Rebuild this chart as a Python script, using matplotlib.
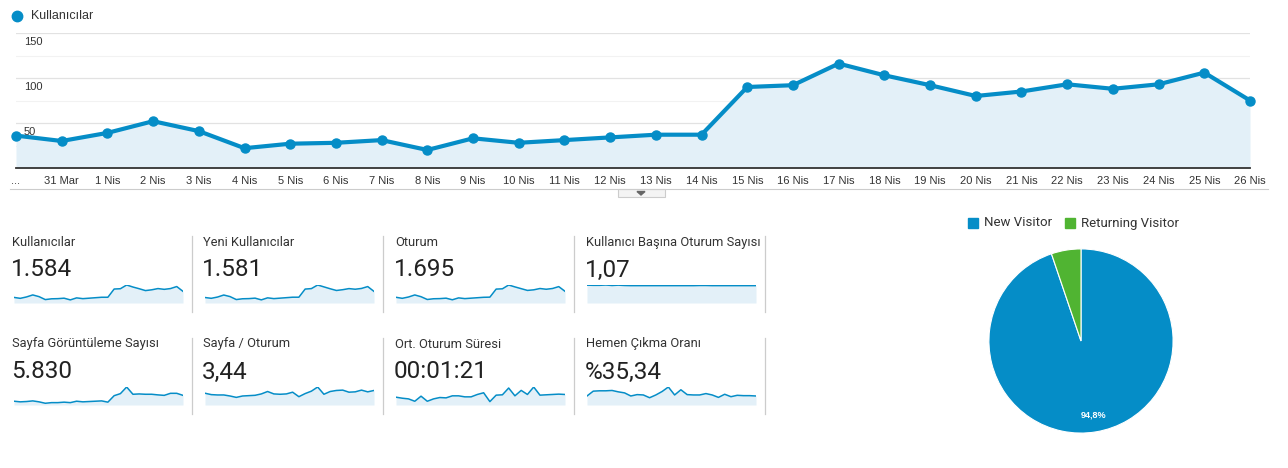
import matplotlib.pyplot as plt
from matplotlib.patches import Rectangle, Polygon
import numpy as np

# ---- data ----
dates = ['...', '31 Mar'] + ['%d Nis' % d for d in range(1, 27)]
users = [36, 30, 39, 52, 41, 22, 27, 28, 31, 20, 33, 28, 31, 34, 37, 37,
         90, 92, 116, 103, 92, 80, 85, 93, 88, 93, 106, 75]

new_users = [35, 30, 38, 51, 41, 22, 27, 28, 31, 20, 33, 28, 31, 34, 37, 37,
             89, 92, 115, 103, 91, 80, 85, 92, 88, 93, 105, 74]
sessions = [39, 32, 41, 55, 43, 24, 29, 30, 33, 22, 35, 30, 33, 36, 39, 40,
            95, 97, 123, 110, 98, 86, 90, 99, 94, 99, 112, 80]
sess_per_user = [1.10, 1.09, 1.09, 1.11, 1.08, 1.10, 1.08, 1.07, 1.07, 1.07,
                 1.07, 1.07, 1.07, 1.07, 1.07, 1.07, 1.07, 1.07, 1.08, 1.08,
                 1.07, 1.07, 1.07, 1.07, 1.07, 1.07, 1.07, 1.07]
pageviews = [120, 100, 110, 130, 100, 55, 75, 75, 90, 75, 120, 100, 110, 120,
             130, 90, 295, 360, 570, 340, 350, 340, 340, 320, 305, 370, 370, 305]
pages_per_session = [3.4, 3.0, 2.9, 2.9, 2.6, 2.2, 2.6, 2.7, 2.8, 3.2, 3.9, 3.2,
                     3.1, 3.2, 3.7, 2.4, 3.3, 4.0, 5.2, 3.1, 3.9, 4.2, 4.3, 3.7,
                     3.8, 4.3, 3.8, 4.2]
avg_duration = [69, 60, 54, 33, 78, 33, 54, 66, 63, 81, 81, 72, 72, 93, 108, 30,
                87, 90, 150, 81, 129, 93, 159, 87, 90, 93, 96, 93]
bounce_rate = [28.6, 44.0, 45.1, 45.1, 46.2, 41.8, 38.5, 28.6, 33.0, 31.9, 23.1,
               31.9, 42.9, 57.2, 31.9, 48.4, 33.0, 31.9, 31.9, 36.3, 31.9, 24.2,
               34.1, 26.4, 30.8, 29.7, 29.7, 28.6]

cards = [
    ('Kullanıcılar', '1.584', users),
    ('Yeni Kullanıcılar', '1.581', new_users),
    ('Oturum', '1.695', sessions),
    ('Kullanıcı Başına Oturum Sayısı', '1,07', sess_per_user),
    ('Sayfa Görüntüleme Sayısı', '5.830', pageviews),
    ('Sayfa / Oturum', '3,44', pages_per_session),
    ('Ort. Oturum Süresi', '00:01:21', avg_duration),
    ('Hemen Çıkma Oranı', '%35,34', bounce_rate),
]

pie_labels = ['New Visitor', 'Returning Visitor']
pie_values = [94.8, 5.2]

BLUE = '#058dc7'
GREEN = '#50b432'
FILL = '#e3f0f8'
TXT = '#333333'

W, H = 1288, 468
fig = plt.figure(figsize=(W / 100, H / 100), dpi=100)


def px_axes(x, y, w, h):
    return fig.add_axes([x / W, 1 - (y + h) / H, w / W, h / H])


def px_text(x, y, s, **kw):
    fig.text(x / W, 1 - y / H, s, **kw)


# ---- main line chart ----
ax = px_axes(16, 33, 1234, 135)
xs = np.arange(len(users))
ax.fill_between(xs, users, 0, color=FILL, lw=0, zorder=1)
ax.plot(xs, users, color=BLUE, lw=3, marker='o', ms=6.5, clip_on=False, zorder=3)
ax.set_xlim(0, len(users) - 1)
ax.set_ylim(0, 150)
for v in [25, 75, 125]:
    ax.axhline(v, color='#f2f2f2', lw=0.8, zorder=0)
for v in [50, 100, 150]:
    ax.axhline(v, color='#e2e2e2', lw=0.9, zorder=0)
    ax.text(8 / 1234, v - 10, str(v), transform=ax.get_yaxis_transform(),
            fontsize=8, color=TXT, family='Liberation Sans', va='center', zorder=4)
for s in ['top', 'left', 'right']:
    ax.spines[s].set_visible(False)
ax.spines['bottom'].set_color('#333333')
ax.spines['bottom'].set_linewidth(1.3)
ax.set_yticks([])
ax.set_xticks(xs)
ax.set_xticklabels(dates, fontsize=8, color=TXT, family='Liberation Sans')
ax.tick_params(axis='x', length=0, pad=6)

# legend of main chart
fig.add_artist(plt.Line2D([17 / W], [1 - 16 / H], marker='o', ms=7.5, color=BLUE,
                          lw=0, transform=fig.transFigure))
px_text(31, 16, 'Kullanıcılar', fontsize=9, color=TXT, family='Liberation Sans',
        va='center')

# separator line under chart and the small tab
fig.add_artist(plt.Line2D([10 / W, 1268 / W], [1 - 189 / H, 1 - 189 / H],
                          color='#cccccc', lw=0.8, transform=fig.transFigure))
fig.patches.append(Rectangle((618 / W, 1 - 197 / H), 47 / W, 8 / H,
                             facecolor='#f4f4f4', edgecolor='#cccccc', lw=0.8,
                             transform=fig.transFigure, figure=fig))
fig.patches.append(Polygon([(637 / W, 1 - 191.5 / H), (645 / W, 1 - 191.5 / H),
                            (641 / W, 1 - 195 / H)], closed=True, color='#666666',
                           transform=fig.transFigure, figure=fig))

# ---- metric cards ----
col_x = [12, 203, 395, 586]
spark_x = [14, 205, 396, 587]
sep_x = [192, 383, 574, 765]
row_y = [0, 102]
for i, (title, value, series) in enumerate(cards):
    r, c = divmod(i, 4)
    dy = row_y[r]
    px_text(col_x[c], 242 + dy, title, fontsize=9.3, color=TXT, family='Roboto',
            va='center')
    px_text(col_x[c] - 1, 270 + dy, value, fontsize=17.5, color='#222222',
            family='Roboto', va='center')
    fig.add_artist(plt.Line2D([sep_x[c] / W] * 2,
                              [1 - (236 + dy) / H, 1 - (312 + dy) / H],
                              color='#cccccc', lw=0.9, transform=fig.transFigure))
    sax = px_axes(spark_x[c], 285 + dy, 169, 18)
    sx = np.arange(len(series))
    sax.fill_between(sx, series, 0, color=FILL, lw=0)
    sax.plot(sx, series, color=BLUE, lw=1.1)
    sax.set_xlim(0, len(series) - 1)
    sax.set_ylim(0, max(series))
    sax.axis('off')

# ---- pie ----
pax = px_axes(1081 - 93, 341 - 93, 186, 186)
wedges, texts = pax.pie(pie_values, colors=[BLUE, GREEN], startangle=90,
                        counterclock=False, radius=1,
                        wedgeprops=dict(edgecolor='white', linewidth=0.8),
                        labels=['94,8%', ''], labeldistance=0.82,
                        textprops=dict(color='white', fontsize=6.5,
                                       fontweight='bold', family='Liberation Sans'))
for t in texts:
    t.set_ha('center')
    t.set_va('center')
pax.set_xlim(-1.01, 1.01)
pax.set_ylim(-1.01, 1.01)
pax.set_aspect('equal')

for (lx, tx), lab, col in zip([(968, 984), (1065, 1081)], pie_labels, [BLUE, GREEN]):
    fig.patches.append(Rectangle((lx / W, 1 - 228 / H), 10 / W, 10 / H, color=col,
                                 transform=fig.transFigure, figure=fig))
    px_text(tx, 223, lab, fontsize=9.5, color=TXT, family='Roboto', va='center')

fig.savefig('out.png', dpi=100)
